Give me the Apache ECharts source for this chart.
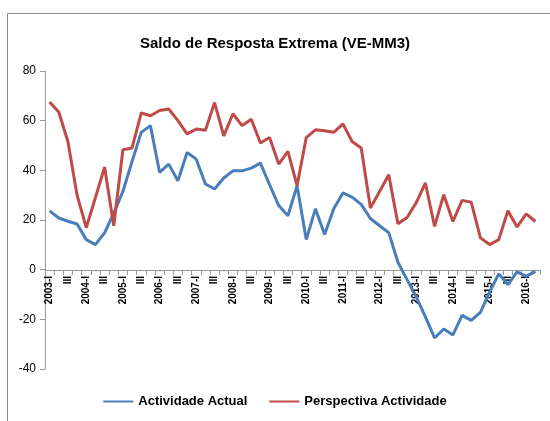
<!DOCTYPE html>
<html>
<head>
<meta charset="utf-8">
<script src="https://cdn.jsdelivr.net/npm/echarts@6/dist/echarts.min.js"></script>
<style>
  html, body { margin: 0; padding: 0; background: #fff; }
  #main { width: 550px; height: 421px; }
</style>
</head>
<body>
<div id="main"></div>
<script>
// quarters 2003-I .. 2016-II
var years = [2003,2004,2005,2006,2007,2008,2009,2010,2011,2012,2013,2014,2015,2016];
var quarterNames = ['I','II','III','IV'];
var lastQuarters = 2; // 2016 only has I and II

var actividadeActual = [
  23.7, 20.8, 19.5, 18.4, 12.1, 10.1, 14.8, 22.8, 31.5, 43.6,
  55.3, 58.0, 39.2, 42.5, 35.8, 47.2, 44.5, 34.5, 32.5, 36.9,
  39.8, 39.8, 40.9, 42.9, 34.2, 25.8, 21.7, 33.8, 12.1, 24.5,
  14.2, 24.5, 30.9, 29.2, 26.3, 20.6, 17.7, 14.9, 3.0, -4.0,
  -11.0, -19.0, -27.5, -23.9, -26.3, -18.4, -20.4, -17.2, -9.0, -1.7,
  -6.0, -0.9, -2.7, -0.7
];
var perspectivaActividade = [
  67.5, 63.5, 51.6, 30.0, 16.9, 29.0, 41.3, 17.7, 48.3, 49.0,
  63.1, 62.0, 64.1, 64.7, 60.0, 54.7, 56.6, 56.1, 67.3, 53.9,
  62.8, 58.0, 60.6, 51.0, 53.2, 42.5, 47.6, 33.8, 53.2, 56.3,
  55.9, 55.3, 58.7, 51.6, 49.0, 24.8, 31.5, 38.2, 18.5, 21.0,
  27.0, 34.9, 17.4, 30.2, 19.4, 27.9, 27.2, 12.8, 10.1, 12.1,
  23.7, 17.2, 22.5, 19.4
];
var yTicks = { min: -40, max: 80, step: 20 };

var categories = [];
for (var y = 0; y < years.length; y++) {
  var nq = (y == years.length - 1) ? lastQuarters : 4;
  for (var q = 0; q < nq; q++) {
    categories.push(q == 0 ? years[y] + '-I' : quarterNames[q]);
  }
}

var font = 'Liberation Sans';
var axisGrey = '#9a9a9a';

var option = {
  backgroundColor: '#fff',
  animation: false,
  title: {
    text: 'Saldo de Resposta Extrema (VE-MM3)',
    left: 'center',
    top: 31,
    textStyle: { fontFamily: font, fontSize: 15, fontWeight: 'bold', color: '#000' }
  },
  legend: {
    bottom: 8,
    left: 'center',
    itemWidth: 30,
    itemHeight: 10,
    itemGap: 22,
    icon: 'path://M0,4 L30,4 L30,6 L0,6 Z',
    textStyle: { fontFamily: font, fontSize: 13, fontWeight: 'bold', color: '#000' },
    data: ['Actividade Actual', 'Perspectiva Actividade']
  },
  // grid 0 holds the lines, grid 1 ends at the zero line and carries the category axis
  grid: [
    { left: 45, right: 10, top: 71, bottom: 52 },
    { left: 45, right: 10, top: 71, height: 199 }
  ],
  graphic: [{
    type: 'rect',
    shape: { x: 7.5, y: 13.5, width: 600, height: 500 },
    style: { fill: 'none', stroke: '#8c8c8c', lineWidth: 1 },
    silent: true
  }],
  xAxis: [
    {
      gridIndex: 0,
      type: 'category',
      data: categories,
      boundaryGap: true,
      axisLine: { show: false },
      axisTick: { show: false },
      axisLabel: { show: false },
      splitLine: { show: false }
    },
    {
      gridIndex: 1,
      type: 'category',
      data: categories,
      boundaryGap: true,
      position: 'bottom',
      axisLine: { show: true, onZero: false, lineStyle: { color: axisGrey, width: 1 } },
      axisTick: { show: true, interval: 0, length: 5, lineStyle: { color: axisGrey } },
      axisLabel: {
        interval: 1,
        rotate: 90,
        margin: 6,
        fontFamily: font,
        fontSize: 10,
        fontWeight: 'bold',
        color: '#000'
      },
      splitLine: { show: false }
    }
  ],
  yAxis: [
    {
      gridIndex: 0,
      type: 'value',
      min: yTicks.min,
      max: yTicks.max,
      interval: yTicks.step,
      axisLine: { show: true, lineStyle: { color: axisGrey } },
      axisTick: { show: true, length: 5, lineStyle: { color: axisGrey } },
      axisLabel: { fontFamily: font, fontSize: 12, color: '#000', margin: 9 },
      splitLine: { show: false }
    },
    {
      gridIndex: 1,
      type: 'value',
      show: false,
      min: 0,
      max: 1
    }
  ],
  series: [
    {
      name: 'Actividade Actual',
      type: 'line',
      data: actividadeActual,
      symbol: 'none',
      lineStyle: { color: '#4a7ebb', width: 3 },
      itemStyle: { color: '#4a7ebb' }
    },
    {
      name: 'Perspectiva Actividade',
      type: 'line',
      data: perspectivaActividade,
      symbol: 'none',
      lineStyle: { color: '#be4b48', width: 3 },
      itemStyle: { color: '#be4b48' }
    }
  ]
};

var myChart = echarts.init(document.getElementById('main'));
myChart.setOption(option);
</script>
</body>
</html>
